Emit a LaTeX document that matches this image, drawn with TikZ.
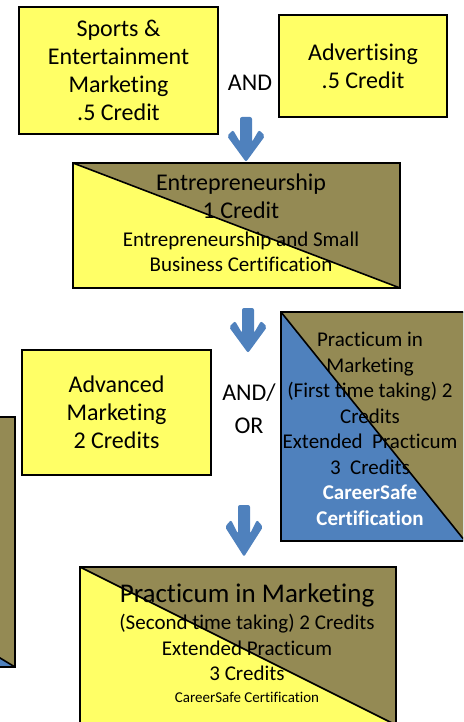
\documentclass[tikz,border=0pt]{standalone}
\usepackage{fontspec}
\setmainfont{Carlito}[Ligatures=NoCommon]
\definecolor{boxyellow}{HTML}{FFFF66}
\definecolor{boxolive}{HTML}{948A54}
\definecolor{boxblue}{HTML}{4F81BD}
\newcommand{\credfont}{\fontsize{21}{25.5}\selectfont}
\tikzset{
  course/.style={draw=black, line width=2.4pt, fill=boxyellow, inner sep=0pt, align=center,
    font=\fontsize{24}{28}\selectfont},
  halfolive/.style={path picture={
    \fill[boxolive] (path picture bounding box.north west) -- (path picture bounding box.north east)
      -- (path picture bounding box.south east) -- cycle;
    \draw[line width=1.6pt] (path picture bounding box.north west) -- (path picture bounding box.south east);}},
  pics/flowarrow/.style={code={
    \fill[boxblue, rounded corners=2pt] (-6,0) -- (6,0) -- (6,25) -- (13,13) -- (19,19) -- (0,45)
      -- (-19,19) -- (-13,13) -- (-6,25) -- cycle;}}
}
\begin{document}
\begin{tikzpicture}[x=1pt,y=-1pt]
  \useasboundingbox (0,0) rectangle (463,722);
  \clip (0,0) rectangle (463,722);
  % first year
  \node[course, minimum width=199pt, minimum height=127pt] (sem) at (118.5,70.5)
    {Sports \&\\Entertainment\\Marketing\\.5 Credit};
  \node[course, minimum width=168pt, minimum height=102pt] (adv) at (363,66) {Advertising\\.5 Credit};
  \node[font=\fontsize{24}{28}\selectfont] (and1) at (250,83) {AND};
  \pic (arr1) at (246,117) {flowarrow};
  % second year
  \node[course, halfolive, minimum width=327pt, minimum height=125pt] (ent) at (236.5,225.5) {};
  \node[font=\fontsize{24}{28}\selectfont, align=center] (enttxt) at (241,222.5)
    {Entrepreneurship\\1 Credit\\{\credfont Entrepreneurship and Small}\\[-3pt]{\credfont Business Certification}};
  \pic (arr2) at (248,308) {flowarrow};
  \node[course, minimum width=189pt, minimum height=125pt] (advm) at (116.5,412.5)
    {Advanced\\Marketing\\2 Credits};
  \node[font=\fontsize{24}{28}\selectfont, align=center] (andor) at (249,409) {AND/\\[5pt]OR};
  \node[course, fill=boxblue, halfolive, minimum width=184pt, minimum height=229pt] (prac) at (373,426.5) {};
  \node[font=\credfont, align=center] (practxt) at (370,429)
    {Practicum in\\Marketing\\(First time taking) 2\\Credits\\Extended\ \ Practicum\\3\ \ Credits\\
     \textcolor{white}{\bfseries CareerSafe}\\\textcolor{white}{\bfseries Certification}};
  \node[course, fill=boxblue, halfolive, minimum width=415pt, minimum height=250pt] (prev) at (-192.5,542) {};
  % third year
  \pic[yscale=1.15] (arr3) at (244,505) {flowarrow};
  \node[course, halfolive, minimum width=316pt, minimum height=158pt] (prac2) at (238,646) {};
  \node[font=\credfont, align=center] (prac2txt) at (247,643)
    {{\fontsize{27}{30}\selectfont Practicum in Marketing}\\[2pt](Second time taking) 2 Credits\\Extended Practicum\\3 Credits\\[-4pt]
     {\fontsize{15}{18}\selectfont CareerSafe\ Certification}};
\end{tikzpicture}
\end{document}
